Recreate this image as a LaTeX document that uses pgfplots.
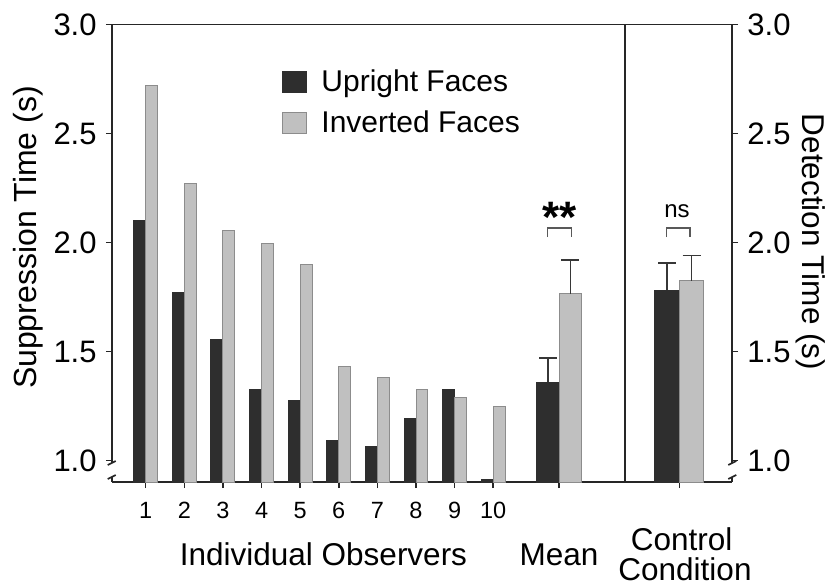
\documentclass[border=0pt]{standalone}
\usepackage{pgfplots}
\pgfplotsset{compat=1.18}
\usepackage{pgfplotstable}
\usepackage{fontspec}
\setmainfont{Liberation Sans}
\definecolor{darkbar}{RGB}{46,46,46}
\definecolor{lightbar}{RGB}{192,192,192}
\definecolor{lightedge}{RGB}{140,140,140}
\definecolor{errc}{RGB}{55,55,55}

\pgfplotstableread{
x up inv
1 2.10 2.72
2 1.77 2.27
3 1.555 2.055
4 1.325 1.995
5 1.275 1.90
6 1.094 1.43
7 1.066 1.38
8 1.194 1.328
9 1.326 1.289
10 0.915 1.248
}\indiv

\pgfplotsset{errstyle/.style={error bars/.cd, y dir=plus, y explicit,
  error bar style={line width=0.75pt, color=errc},
  error mark options={rotate=90, mark size=4.5pt, line width=0.75pt, color=errc}}}

\begin{document}
\begin{tikzpicture}
\useasboundingbox (-55.85pt,-51.35pt) rectangle (359.15pt,241.15pt);
\begin{axis}[
 at={(0pt,0pt)}, anchor=south west,
 scale only axis, width=310.3pt, height=228.9pt,
 xmin=0.12, xmax=16.19, ymin=0.9, ymax=3.0,
 separate axis lines,
 x axis line style={line width=0.85pt, black!85},
 y axis line style={draw=none},
 xtick={1,2,3,4,5,6,7,8,9,10,11.71,14.82},
 xticklabels={1,2,3,4,5,6,7,8,9,10,{},{}},
 ytick={1,1.5,2,2.5,3},
 yticklabels={1.0,1.5,2.0,2.5,3.0},
 xtick pos=left, ytick pos=left,
 tick align=outside,
 major tick length=2.85pt,
 tick style={line width=0.8pt, black!85},
 xticklabel style={font=\fontsize{11.75}{14}\selectfont, inner sep=0pt, anchor=north, yshift=-7pt},
 yticklabel style={font=\fontsize{15.5}{18}\selectfont, inner sep=0pt, anchor=east, xshift=-4.5pt},
 legend style={at={(0.274,0.9006)}, anchor=north west, draw=none, fill=none,
   inner sep=0pt, outer sep=0pt, font=\fontsize{15}{18}\selectfont,
   row sep=8pt, column sep=7.35pt, nodes={inner sep=0pt}},
 legend cell align=left,
 legend image code/.code={\draw[#1] (0pt,-5pt) rectangle (12pt,5.3pt);},
]
\addplot[ybar, bar width=0.31, bar shift=-0.155, fill=darkbar, draw=darkbar, line width=0.5pt]
  table[x=x,y=up]{\indiv};
\addlegendentry{Upright Faces}
\addplot[ybar, bar width=0.31, bar shift=0.155, fill=lightbar, draw=lightedge, line width=0.5pt]
  table[x=x,y=inv]{\indiv};
\addlegendentry{Inverted Faces}
% Mean (bars centred at 11.71 -/+ 0.29)
\addplot[forget plot, ybar, bar width=0.583, bar shift=0, fill=darkbar, draw=darkbar, line width=0.5pt, errstyle]
  coordinates {(11.42,1.36) +- (0,0.11)};
\addplot[forget plot, ybar, bar width=0.583, bar shift=0, fill=lightbar, draw=lightedge, line width=0.5pt, errstyle]
  coordinates {(12.0,1.765) +- (0,0.154)};
% Control (bars centred at 14.82 -/+ 0.317)
\addplot[forget plot, ybar, bar width=0.634, bar shift=0, fill=darkbar, draw=darkbar, line width=0.5pt, errstyle]
  coordinates {(14.503,1.78) +- (0,0.125)};
\addplot[forget plot, ybar, bar width=0.634, bar shift=0, fill=lightbar, draw=lightedge, line width=0.5pt, errstyle]
  coordinates {(15.137,1.825) +- (0,0.115)};
% divider
\draw[line width=0.6pt, black!85] (axis cs:13.41,0.9) -- (axis cs:13.41,3.0);
% brackets
\draw[line width=0.7pt, black!65] (axis cs:11.41,2.025) -- (axis cs:11.41,2.066) -- (axis cs:12.03,2.066) -- (axis cs:12.03,2.025);
\draw[line width=0.7pt, black!65] (axis cs:14.49,2.025) -- (axis cs:14.49,2.066) -- (axis cs:15.09,2.066) -- (axis cs:15.09,2.025);
\end{axis}
\begin{axis}[
 at={(0pt,0pt)}, anchor=south west,
 scale only axis, width=310.3pt, height=228.9pt,
 xmin=0.12, xmax=16.19, ymin=0.9, ymax=3.0,
 axis x line=none, axis y line*=right,
 axis line style={draw=none},
 ytick={1,1.5,2,2.5,3},
 yticklabels={1.0,1.5,2.0,2.5,3.0},
 tick align=outside,
 major tick length=2.85pt,
 tick style={line width=0.8pt, black!85},
 yticklabel style={font=\fontsize{15.5}{18}\selectfont, inner sep=0pt, anchor=west, xshift=4.5pt},
]
\end{axis}
% broken y axis lines
\begin{scope}[line width=0.85pt, black!85]
\draw (0pt,228.9pt) -- (0pt,9.65pt);
\draw (0pt,2.65pt) -- (0pt,0pt);
\draw (-2pt,8.65pt) -- (2pt,10.65pt);
\draw (-2pt,1.65pt) -- (2pt,3.65pt);
\draw (310.3pt,228.9pt) -- (310.3pt,9.65pt);
\draw (310.3pt,2.65pt) -- (310.3pt,0pt);
\draw (308.3pt,8.65pt) -- (312.3pt,10.65pt);
\draw (308.3pt,1.65pt) -- (312.3pt,3.65pt);
\end{scope}
% texts
\node[font=\fontsize{15.75}{18}\selectfont, anchor=base] at (105.9pt,-41.7pt) {Individual Observers};
\node[font=\fontsize{15.75}{18}\selectfont, anchor=base] at (223.65pt,-41.7pt) {Mean};
\node[font=\fontsize{15.75}{18}\selectfont, anchor=base] at (285pt,-33.85pt) {Control};
\node[font=\fontsize{15.75}{18}\selectfont, anchor=base] at (286.65pt,-48.85pt) {Condition};
\node[font=\fontsize{16}{18}\selectfont, anchor=base, rotate=90] at (-37.35pt,122.4pt) {Suppression Time (s)};
\node[font=\fontsize{15.75}{18}\selectfont, anchor=base, rotate=-90] at (345.15pt,120.15pt) {Detection Time (s)};
\node[font=\fontsize{12}{14}\selectfont, anchor=base] at (282.65pt,132.5pt) {ns};
\node[font=\bfseries\fontsize{22}{24}\selectfont, anchor=center, inner sep=0pt] at (224pt,132.5pt) {**};
\end{tikzpicture}
\end{document}
